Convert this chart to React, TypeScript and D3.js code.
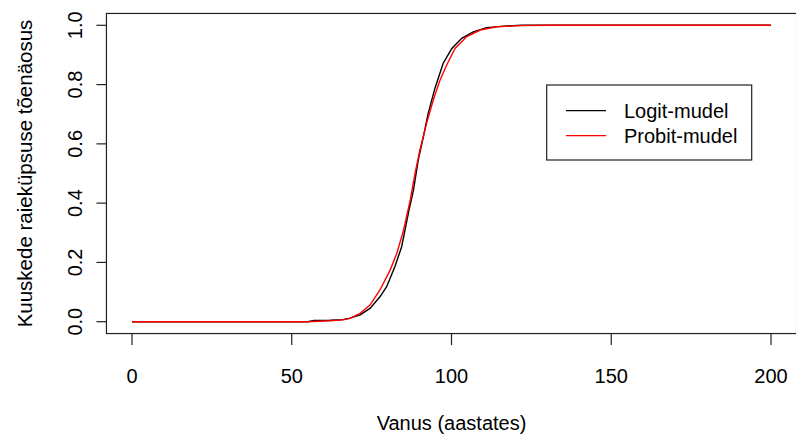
import React from 'react';
import * as d3 from 'd3';

// vanus (aastates) ja mudeli tõenäosused, loetud pildilt
const logitAge = [0, 20, 40, 55, 57, 62, 66, 68, 71.4, 74.5, 77.6, 79.7, 82.3, 84.4, 86.5, 88.1, 89.6, 91.2, 92.7, 94.8, 97.4, 100.1, 103.2, 106.8, 111, 117.3, 122, 150, 200];
const logitProb = [0, 0, 0, 0, 0.004, 0.005, 0.007, 0.011, 0.023, 0.045, 0.084, 0.118, 0.186, 0.253, 0.366, 0.444, 0.546, 0.624, 0.703, 0.787, 0.872, 0.922, 0.956, 0.978, 0.992, 0.998, 1, 1, 1];

const probitAge = [0, 20, 40, 55, 62, 66, 68.2, 71.4, 74.5, 77.6, 80.8, 82.9, 85, 87.1, 88.6, 90.1, 92.2, 94.3, 96.4, 98.5, 101.1, 104.8, 109, 114.2, 121.4, 130, 150, 200];
const probitProb = [0, 0, 0, 0, 0.003, 0.006, 0.011, 0.028, 0.056, 0.107, 0.174, 0.231, 0.309, 0.411, 0.501, 0.579, 0.669, 0.748, 0.815, 0.866, 0.922, 0.962, 0.984, 0.995, 0.999, 1, 1, 1];

const xTicks = [0, 50, 100, 150, 200];
const yTicks = [0, 0.2, 0.4, 0.6, 0.8, 1.0];
const legendLabels = ['Logit-mudel', 'Probit-mudel'];
const legendColors = ['#000000', '#ff0000'];

const W = 796;
const H = 434;
const FONT = '"Liberation Sans", Arial, Helvetica, sans-serif';

export default function App() {
  const x = d3.scaleLinear().domain([0, 200]).range([132, 771]);
  const y = d3.scaleLinear().domain([0, 1]).range([321.7, 25.3]);
  const [bx0, bx1] = [x(-8), x(208)];
  const [by0, by1] = [y(1.04), y(-0.04)];

  const line = d3.line<[number, number]>().x(d => x(d[0])).y(d => y(d[1]));
  const logitPts = logitAge.map((a, i) => [a, logitProb[i]] as [number, number]);
  const probitPts = probitAge.map((a, i) => [a, probitProb[i]] as [number, number]);

  return (
    <svg width={W} height={H} style={{ position: 'absolute', left: 0, top: 0, background: '#fff' }}
      fontFamily={FONT}>
      <path d={line(logitPts) || ''} fill="none" stroke="#000" strokeWidth={1.4} />
      <path d={line(probitPts) || ''} fill="none" stroke="#ff0000" strokeWidth={1.4} />

      <rect x={bx0} y={by0} width={bx1 - bx0} height={by1 - by0} fill="none" stroke="#222" strokeWidth={1.2} />

      {/* x telg */}
      {xTicks.map(t => (
        <g key={'x' + t}>
          <line x1={x(t)} x2={x(t)} y1={by1} y2={by1 + 11.5} stroke="#222" strokeWidth={1.2} />
          <text x={x(t)} y={383} textAnchor="middle" fontSize={20} fill="#000">{t}</text>
        </g>
      ))}
      <text x={(bx0 + bx1) / 2} y={430} textAnchor="middle" fontSize={20} fill="#000">Vanus (aastates)</text>

      {/* y telg */}
      {yTicks.map(t => (
        <g key={'y' + t}>
          <line x1={bx0 - 10} x2={bx0} y1={y(t)} y2={y(t)} stroke="#222" strokeWidth={1.2} />
          <text transform={`translate(82,${y(t)}) rotate(-90)`} textAnchor="middle" fontSize={20} fill="#000">
            {t.toFixed(1)}
          </text>
        </g>
      ))}
      <text transform={`translate(32,${(by0 + by1) / 2}) rotate(-90)`} textAnchor="middle" fontSize={20.5} fill="#000">
        Kuuskede raieküpsuse tõenäosus
      </text>

      {/* legend */}
      <rect x={546.7} y={85} width={205} height={75} fill="#fff" stroke="#222" strokeWidth={1.2} />
      {legendLabels.map((l, i) => (
        <g key={l}>
          <line x1={566} x2={606} y1={110.7 + i * 25} y2={110.7 + i * 25} stroke={legendColors[i]} strokeWidth={1.3} />
          <text x={624} y={110.7 + i * 25} dominantBaseline="central" fontSize={20} fill="#000">{l}</text>
        </g>
      ))}
    </svg>
  );
}
